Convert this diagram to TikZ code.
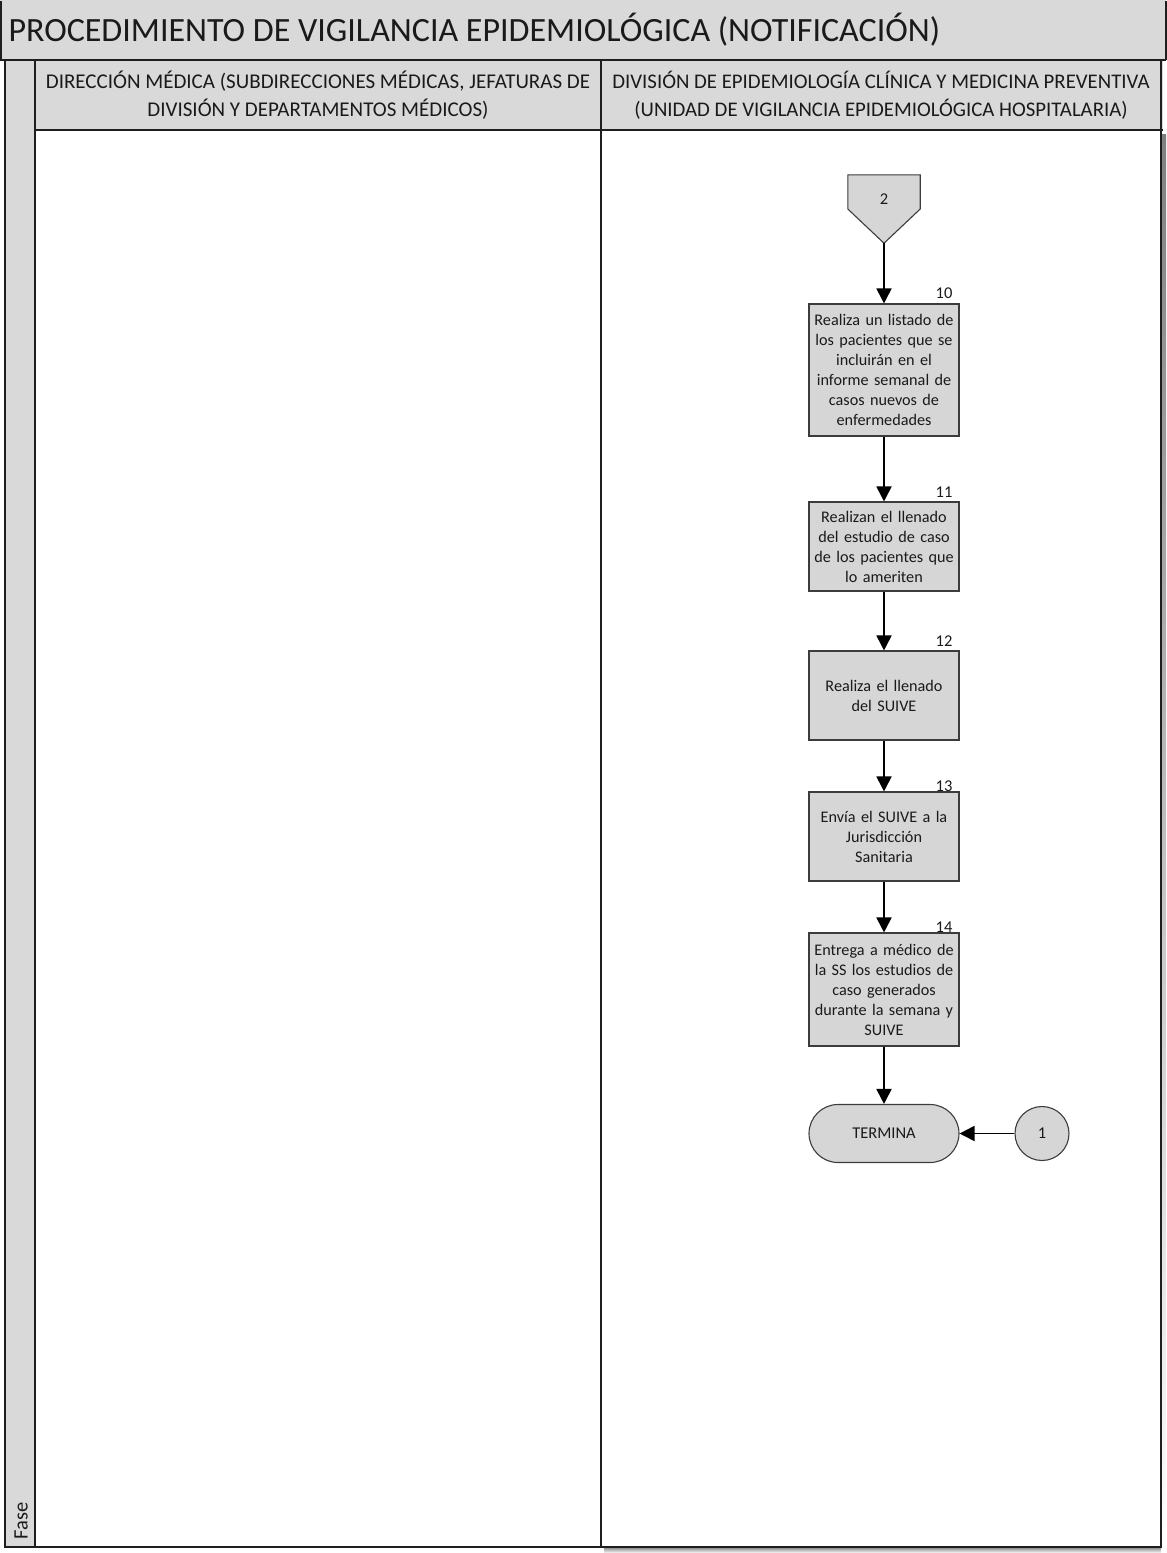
\documentclass[tikz,border=0pt]{standalone}
\usepackage{fontspec}
\setmainfont{Carlito}
\usetikzlibrary{arrows.meta}

\definecolor{hdrfill}{HTML}{D9D9D9}
\definecolor{boxfill}{HTML}{D6D6D6}
\definecolor{boxline}{HTML}{3C3C3C}
\definecolor{laneline}{HTML}{1E1E1E}
\definecolor{shade}{HTML}{E3EBF5}
\definecolor{txt}{HTML}{1A1A1A}

\tikzset{
  lanebox/.style={draw=laneline, line width=1.8pt},
  procbox/.style={draw=boxline, fill=boxfill, line width=1.1pt,
    minimum width=150pt, text width=148pt, align=center, inner sep=1pt,
    text=txt, font=\fontsize{16.2}{20}\selectfont},
  stepnum/.style={anchor=south east, inner sep=1pt, text=txt,
    font=\fontsize{16.5}{18}\selectfont},
  flowarrow/.style={draw=black, line width=1.8pt,
    -{Triangle[length=15pt,width=15pt]}},
}

\begin{document}
\begin{tikzpicture}[x=1pt,y=-1pt]
\useasboundingbox (0,0) rectangle (1167,1553);

% title bar
\fill[hdrfill] (0,0) rectangle (1166,60);
\draw[lanebox] (1,1) -- (1,60) (1166,1) -- (1166,60);
\node[anchor=west, text=txt, font=\fontsize{34}{36}\selectfont] (title) at (5,30)
  {PROCEDIMIENTO DE VIGILANCIA EPIDEMIOLÓGICA (NOTIFICACIÓN)};

% soft shadow along the right lane
\fill[shade] (604,1547) rectangle (1166,1553);
\fill[shade] (1161,134) rectangle (1166,1553);

% phase column
\fill[hdrfill] (5,60) rectangle (35,1547);
\node[rotate=90, anchor=west, text=txt, font=\fontsize{20.5}{24}\selectfont] (fase) at (21,1543) {Fase};

% lane headers
\fill[hdrfill] (35,60) rectangle (1163,130);
\node[align=center, text=txt, font=\fontsize{21}{28}\selectfont] (lane1) at (318,95)
  {DIRECCIÓN MÉDICA (SUBDIRECCIONES MÉDICAS, JEFATURAS DE\\DIVISIÓN Y DEPARTAMENTOS MÉDICOS)};
\node[align=center, text=txt, font=\fontsize{20.8}{28}\selectfont] (lane2) at (881,95)
  {DIVISIÓN DE EPIDEMIOLOGÍA CLÍNICA Y MEDICINA PREVENTIVA\\(UNIDAD DE VIGILANCIA EPIDEMIOLÓGICA HOSPITALARIA)};

% lane frames
\draw[lanebox] (0,60) -- (1166,60);
\draw[lanebox] (5,60) -- (5,1547) -- (1161,1547) -- (1161,60);
\draw[lanebox] (35,60) -- (35,1547);
\draw[lanebox] (601,60) -- (601,1547);
\draw[lanebox] (35,130) -- (1163,130);

% off-page connector
\node[minimum width=72pt, minimum height=68pt, inner sep=0pt] (c2) at (884,209) {};
\draw[draw=boxline, fill=boxfill, line width=1.1pt]
  (c2.north west) -- (c2.north east) -- (c2.east) -- (c2.south) -- (c2.west) -- cycle;
\node[text=txt, font=\fontsize{16.5}{18}\selectfont] (c2t) at (884,199) {2};

% activities
\node[procbox, minimum height=132pt] (b10) at (884,370)
  {Realiza un listado de\\los pacientes que se\\incluirán en el\\informe semanal de\\casos nuevos de\\enfermedades};
\node[procbox, minimum height=89pt] (b11) at (884,546.5)
  {Realizan el llenado\\del estudio de caso\\de los pacientes que\\lo ameriten};
\node[procbox, minimum height=89pt] (b12) at (884,695.5)
  {Realiza el llenado\\del SUIVE};
\node[procbox, minimum height=89pt] (b13) at (884,836.5)
  {Envía el SUIVE a la\\Jurisdicción\\Sanitaria};
\node[procbox, minimum height=113pt] (b14) at (884,989.5)
  {Entrega a médico de\\la SS los estudios de\\caso generados\\durante la semana y\\SUIVE};

\node[stepnum] (n10) at ([xshift=-6pt,yshift=4pt]b10.north east) {10};
\node[stepnum] (n11) at ([xshift=-6pt,yshift=3pt]b11.north east) {11};
\node[stepnum] (n12) at ([xshift=-6pt,yshift=3pt]b12.north east) {12};
\node[stepnum] (n13) at ([xshift=-6pt,yshift=-1pt]b13.north east) {13};
\node[stepnum] (n14) at ([xshift=-6pt,yshift=-1pt]b14.north east) {14};

% end
\node[draw=boxline, fill=boxfill, line width=1.1pt, minimum width=150pt, minimum height=58pt,
  rounded corners=29pt, text=txt, font=\fontsize{16.5}{18}\selectfont] (term) at (884,1133.5) {TERMINA};
\node[circle, draw=boxline, fill=boxfill, line width=1.1pt, minimum size=54pt, inner sep=0pt,
  text=txt, font=\fontsize{16.5}{18}\selectfont] (o1) at (1042,1133.5) {1};

% connectors
\draw[flowarrow] (c2.south) -- (b10.north);
\draw[flowarrow] (b10.south) -- (b11.north);
\draw[flowarrow] (b11.south) -- (b12.north);
\draw[flowarrow] (b12.south) -- (b13.north);
\draw[flowarrow] (b13.south) -- (b14.north);
\draw[flowarrow] (b14.south) -- (term.north);
\draw[flowarrow] (o1.west) -- (term.east);
\end{tikzpicture}
\end{document}
